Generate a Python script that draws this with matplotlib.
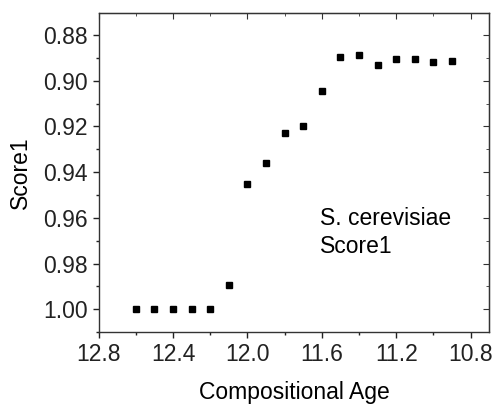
import matplotlib
matplotlib.use("Agg")
import matplotlib.pyplot as plt
from matplotlib.ticker import MultipleLocator, FormatStrFormatter

plt.rcParams['font.family'] = ['Liberation Sans', 'DejaVu Sans']

age = [12.6, 12.5, 12.4, 12.3, 12.2, 12.1, 12.0, 11.9, 11.8, 11.7,
       11.6, 11.5, 11.4, 11.3, 11.2, 11.1, 11.0, 10.9]
score1 = [1.000, 1.000, 1.000, 1.000, 1.000, 0.9894, 0.9454, 0.9361, 0.9228, 0.9198,
          0.9044, 0.8895, 0.8889, 0.8930, 0.8905, 0.8907, 0.8918, 0.8914]

FS = 16.5

fig = plt.figure(figsize=(4.98, 4.04), dpi=100)
ax = fig.add_axes([0.198, 0.178, 0.7845, 0.789])
ax.plot(age, score1, linestyle='none', marker='s', ms=4.5, color='black')

ax.set_xlim(12.8, 10.7)
ax.set_ylim(1.01, 0.8705)

ax.xaxis.set_major_locator(MultipleLocator(0.4))
ax.xaxis.set_minor_locator(MultipleLocator(0.2))
ax.yaxis.set_major_locator(MultipleLocator(0.02))
ax.yaxis.set_minor_locator(MultipleLocator(0.01))
ax.xaxis.set_major_formatter(FormatStrFormatter('%.1f'))
ax.yaxis.set_major_formatter(FormatStrFormatter('%.2f'))

ax.tick_params(which='both', direction='out', top=False, right=False, labelsize=FS,
               colors='#222222', pad=3.5)
ax.tick_params(which='major', length=4.5, width=1)
ax.tick_params(which='minor', length=2.5, width=1)
for s in ax.spines.values():
    s.set_linewidth(1)
    s.set_color('#333333')

# mirrored inward ticks on top and right
axt = ax.secondary_xaxis('top')
axt.xaxis.set_major_locator(MultipleLocator(0.4))
axt.xaxis.set_minor_locator(MultipleLocator(0.2))
axt.tick_params(which='both', direction='in', labeltop=False, colors='#333333')
axt.tick_params(which='major', length=4.5)
axt.tick_params(which='minor', length=2.5)
axr = ax.secondary_yaxis('right')
axr.yaxis.set_major_locator(MultipleLocator(0.02))
axr.yaxis.set_minor_locator(MultipleLocator(0.01))
axr.tick_params(which='both', direction='in', labelright=False, colors='#333333')
axr.tick_params(which='major', length=4.5)
axr.tick_params(which='minor', length=2.5)

ax.set_xlabel('Compositional Age', fontsize=FS, labelpad=11)
ax.set_ylabel('Score1', fontsize=FS, labelpad=8)

ax.text(11.612, 0.963, 'S. cerevisiae', fontsize=FS, va='baseline', ha='left')
ax.text(11.612, 0.9756, 'Score1', fontsize=FS, va='baseline', ha='left')

fig.savefig('out.png', dpi=100)
